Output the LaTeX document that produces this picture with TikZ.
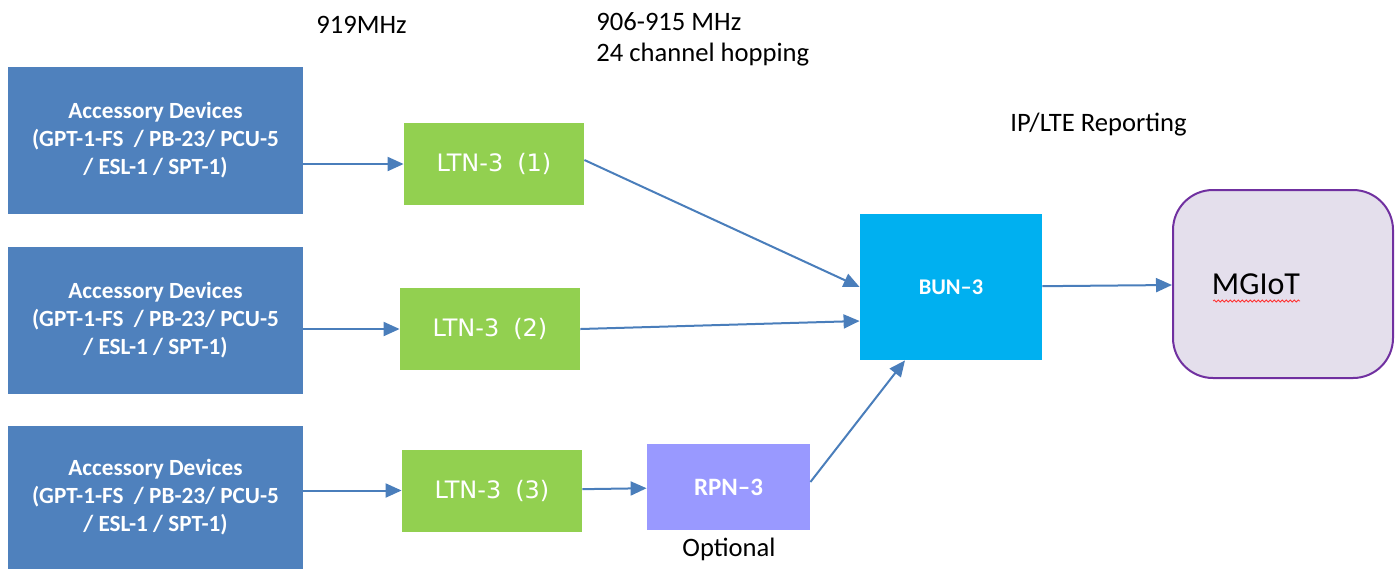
\documentclass[tikz,border=0pt]{standalone}
\usepackage{fontspec}
\setmainfont{Carlito}
\newfontfamily\ltnfont{DejaVu Sans}
\usetikzlibrary{arrows.meta,positioning,decorations.pathmorphing}
\definecolor{accblue}{HTML}{4F81BD}
\definecolor{ltngreen}{HTML}{92D050}
\definecolor{bunblue}{HTML}{00B0F0}
\definecolor{rpnviolet}{HTML}{9999FF}
\definecolor{mgfill}{HTML}{E4DFEC}
\definecolor{mgline}{HTML}{7030A0}
\definecolor{linkblue}{HTML}{4A7EBB}

\begin{document}
\begin{tikzpicture}[x=0.5pt,y=-0.5pt,
    accbox/.style={fill=accblue, text=white, font=\bfseries\fontsize{11.6}{14}\selectfont,
        align=center, minimum width=147.5pt, minimum height=73.5pt, inner sep=0pt},
    ltnbox/.style={fill=ltngreen, text=white, font=\ltnfont\fontsize{12}{14}\selectfont,
        minimum width=90pt, minimum height=41pt, inner sep=0pt},
    link/.style={draw=linkblue, line width=1pt, -{Triangle[length=8pt,width=7pt]}},
    note/.style={anchor=west, inner sep=0pt, font=\fontsize{13.3}{15}\selectfont}]

\useasboundingbox (0,0) rectangle (1397,569);

% accessory devices
\node[accbox] (acc1) at (155.5,140.5) {Accessory Devices\\(GPT-1-FS~ / PB-23/ PCU-5\\/ ESL-1 / SPT-1)};
\node[accbox] (acc2) at (155.5,320.5) {Accessory Devices\\(GPT-1-FS~ / PB-23/ PCU-5\\/ ESL-1 / SPT-1)};
\node[accbox, minimum height=71.5pt] (acc3) at (155.5,497.5) {Accessory Devices\\(GPT-1-FS~ / PB-23/ PCU-5\\/ ESL-1 / SPT-1)};

% LTN nodes
\node[ltnbox] (ltn1) at (494,164) {LTN-3\hspace{7pt}(1)};
\node[ltnbox] (ltn2) at (490,329) {LTN-3\hspace{7pt}(2)};
\node[ltnbox] (ltn3) at (492,490.5) {LTN-3\hspace{7pt}(3)};

\node[fill=rpnviolet, text=white, font=\bfseries\fontsize{12.5}{14}\selectfont,
    minimum width=81.5pt, minimum height=43pt, inner sep=0pt] (rpn) at (728.5,487) {RPN--3};
\node[fill=bunblue, text=white, font=\bfseries\fontsize{11.2}{13}\selectfont,
    minimum width=91pt, minimum height=73pt, inner sep=0pt] (bun) at (951,287) {BUN--3};
\node[fill=mgfill, draw=mgline, line width=1pt, rounded corners=20pt,
    minimum width=110pt, minimum height=94pt, inner sep=0pt,
    font=\fontsize{16}{18}\selectfont] (mgiot) at (1283,284) {\hspace*{-27pt}MGIoT};
\draw[red!80, line width=0.4pt, decorate, decoration={snake, amplitude=0.5pt, segment length=2pt}]
    (1213,301) -- (1300,301);

% labels
\node[note] (f919) at (316,25) {919MHz};
\node[note] (f906) at (596,22) {906-915 MHz};
\node[note] (hop) at (596,55) {24 channel hopping};
\node[note] (iplte) at (1010,125) {IP/LTE Reporting};
\node[note, anchor=center] (opt) at (729,549) {Optional};

% links
\draw[link] (acc1.east |- ltn1) -- (ltn1);
\draw[link] (acc2.east |- ltn2) -- (ltn2);
\draw[link] (acc3.east |- ltn3) -- (ltn3);
\draw[link] ([yshift=2pt]ltn1.east) -- (bun.west);
\draw[link] (ltn2.east) -- ([yshift=-17pt]bun.west);
\draw[link] (ltn3) -- (rpn);
\draw[link] ([yshift=2.5pt]rpn.east) -- ([xshift=-23pt]bun.south);
\draw[link] (bun) -- (mgiot);
\end{tikzpicture}
\end{document}
